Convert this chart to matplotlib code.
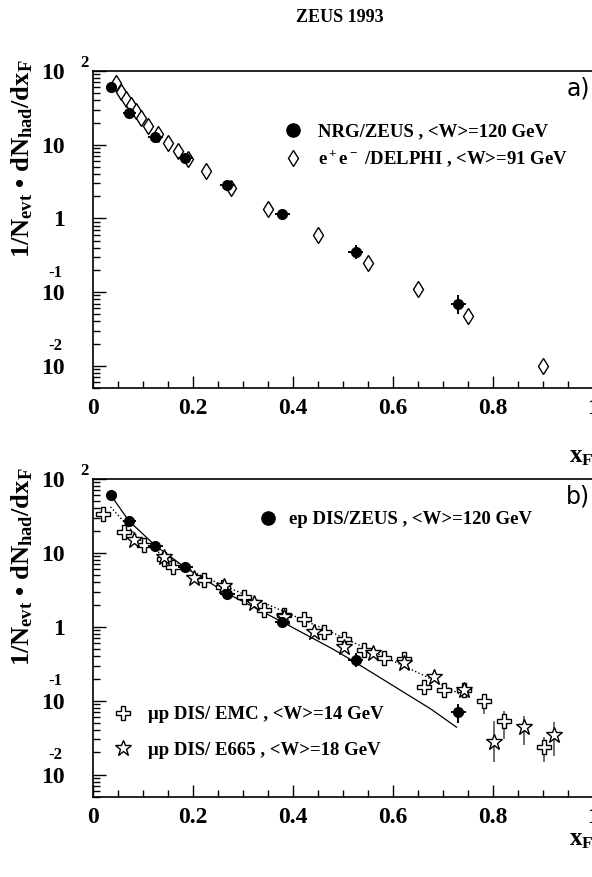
import numpy as np
import matplotlib
matplotlib.use('Agg')
import matplotlib.pyplot as plt
from matplotlib.lines import Line2D

# ZEUS points (identical in both panels)
zeus_x = [0.036, 0.072, 0.124, 0.184, 0.268, 0.378, 0.525, 0.730]
zeus_y = [61, 27, 12.6, 6.5, 2.8, 1.15, 0.355, 0.070]
zeus_xerr = [0.010, 0.013, 0.015, 0.015, 0.015, 0.015, 0.015, 0.015]
zeus_ylo = [57, 25, 11.8, 6.1, 2.6, 1.05, 0.285, 0.050]
zeus_yhi = [65, 29, 13.5, 6.9, 3.0, 1.27, 0.44, 0.090]

# e+e- DELPHI
delphi_x = [0.045, 0.055, 0.065, 0.075, 0.085, 0.095, 0.11, 0.13, 0.15, 0.17,
            0.19, 0.225, 0.275, 0.35, 0.45, 0.55, 0.65, 0.75, 0.90]
delphi_y = [69, 52, 42, 35, 29, 23, 18, 14, 10.5, 8.1,
            6.4, 4.36, 2.6, 1.36, 0.59, 0.25, 0.11, 0.047, 0.010]

# mu p EMC
emc_x = [0.019, 0.061, 0.101, 0.141, 0.160, 0.221, 0.260, 0.301, 0.341, 0.381, 0.421,
         0.461, 0.502, 0.542, 0.581, 0.621, 0.661, 0.701, 0.741, 0.781, 0.821, 0.901]
emc_y = [34, 19.4, 12.8, 8.2, 6.4, 4.3, 3.5, 2.57, 1.7, 1.45, 1.28,
         0.86, 0.68, 0.49, 0.38, 0.37, 0.153, 0.14, 0.138, 0.10, 0.054, 0.024]
emc_ylo = [34, 19.4, 12.8, 8.2, 6.4, 4.3, 3.5, 2.57, 1.7, 1.45, 1.28,
           0.86, 0.68, 0.49, 0.38, 0.37, 0.14, 0.125, 0.12, 0.066, 0.030, 0.015]
emc_yhi = [34, 19.4, 12.8, 8.2, 6.4, 4.3, 3.5, 2.57, 1.7, 1.45, 1.28,
           0.86, 0.68, 0.49, 0.38, 0.37, 0.168, 0.16, 0.16, 0.12, 0.072, 0.032]

# mu p E665
e665_x = [0.081, 0.141, 0.201, 0.262, 0.321, 0.381, 0.441, 0.502, 0.560, 0.621,
          0.681, 0.741, 0.801, 0.861, 0.921]
e665_y = [15, 8.7, 4.55, 3.6, 2.1, 1.38, 0.86, 0.54, 0.45, 0.32,
          0.21, 0.14, 0.0275, 0.044, 0.035]
e665_ylo = [15, 8.7, 4.55, 3.6, 2.1, 1.38, 0.86, 0.54, 0.45, 0.30,
            0.20, 0.125, 0.0148, 0.025, 0.018]
e665_yhi = [15, 8.7, 4.55, 3.6, 2.1, 1.38, 0.86, 0.54, 0.45, 0.34,
            0.22, 0.165, 0.054, 0.063, 0.052]

# curves in panel b
solid_x = [0.036, 0.072, 0.125, 0.185, 0.27, 0.38, 0.48, 0.525, 0.675, 0.727]
solid_y = [60, 27, 12.5, 6.3, 2.8, 1.15, 0.50, 0.33, 0.078, 0.044]
dotted_x = [0.035, 0.1, 0.128, 0.214, 0.3, 0.475, 0.662, 0.742]
dotted_y = [42, 13.6, 10.5, 5.0, 2.8, 0.86, 0.22, 0.115]

# ROOT-style log labels: mantissa on the tick, exponent written separately
ytick_vals = [0.01, 0.1, 1, 10, 100]
ytick_text = ['10', '10', '1', '10', '10']
yexp_vals = [100, 0.1, 0.01]
yexp_text = ['2', '-1', '-2']
yexp_shift = [(-6.5, 6.0), (-27, 14), (-27, 14.5)]   # offset points
xtick_vals = [0, 0.2, 0.4, 0.6, 0.8, 1.0]
xtick_text = ['0', '0.2', '0.4', '0.6', '0.8', '1']

plt.rcParams['font.family'] = ['Liberation Serif', 'DejaVu Serif']
plt.rcParams['font.weight'] = 'bold'
plt.rcParams['mathtext.fontset'] = 'custom'
plt.rcParams['mathtext.rm'] = 'Liberation Serif:bold'
plt.rcParams['mathtext.it'] = 'Liberation Serif:bold'
plt.rcParams['mathtext.bf'] = 'Liberation Serif:bold'

W, H = 592, 877
fig = plt.figure(figsize=(W / 100, H / 100), dpi=100)


def px_axes(x0, y0, x1, y1):
    return fig.add_axes([x0 / W, 1 - y1 / H, (x1 - x0) / W, (y1 - y0) / H])


def style_axes(ax, xlab_y):
    ax.set_yscale('log')
    ax.set_xlim(0, 1.0)
    ax.set_ylim(0.005, 100)
    ax.set_xticks(xtick_vals)
    ax.set_xticklabels(xtick_text)
    ax.set_xticks(np.arange(0.05, 1.0, 0.05), minor=True)
    ax.set_yticks(ytick_vals)
    ax.set_yticklabels(ytick_text)
    ax.tick_params(which='both', direction='in', top=False, right=False)
    ax.tick_params(which='major', length=9, width=1, labelsize=17, pad=7)
    ax.tick_params(which='minor', length=5, width=1)
    ax.tick_params(axis='y', which='major', pad=20)
    for s in ax.spines.values():
        s.set_linewidth(1.2)
    ax.spines['right'].set_visible(False)
    for v, t, sh in zip(yexp_vals, yexp_text, yexp_shift):
        ax.annotate(t, xy=(0, v), xycoords=ax.get_yaxis_transform(),
                    xytext=sh, textcoords='offset points',
                    ha='center', va='center', fontsize=12)
    ax.text(1.0, xlab_y, r'$x_F$', transform=ax.transAxes, ha='right', va='center',
            fontsize=18)


def zeus_points(ax):
    yerr = [np.array(zeus_y) - np.array(zeus_ylo), np.array(zeus_yhi) - np.array(zeus_y)]
    ax.errorbar(zeus_x, zeus_y, xerr=zeus_xerr, yerr=yerr, fmt='o', color='black',
                ms=7, elinewidth=1.4, capsize=0, zorder=5)


ylabel = '1/N$_{evt}$ \u2022 dN$_{had}$/dx$_F$'

# ---- panel a
axa = px_axes(93, 71, 593, 388)
style_axes(axa, -0.215)
axa.plot(delphi_x, delphi_y, 'd', mfc='white', mec='black', ms=8, mew=1.0, zorder=4)
zeus_points(axa)
h1 = Line2D([], [], marker='o', ls='none', color='black', ms=9.5)
h2 = Line2D([], [], marker='d', ls='none', mfc='white', mec='black', ms=8.5)
axa.legend([h1, h2], ['NRG/ZEUS , <W>=120 GeV', r'e$^+$e$^-$ /DELPHI , <W>=91 GeV'],
           loc='center left', bbox_to_anchor=(0.381, 0.763), frameon=False,
           fontsize=13.5, handlelength=1.0, handletextpad=0.83, labelspacing=0.45,
           borderpad=0, borderaxespad=0)
axa.text(0.995, 0.945, 'a)', transform=axa.transAxes, ha='right', va='center',
         fontsize=17, family='DejaVu Sans', weight='normal')
fig.text(22 / W, 1 - 60 / H, ylabel, rotation=90, ha='center', va='top', fontsize=19)

# ---- panel b
axb = px_axes(93, 479, 593, 797)
style_axes(axb, -0.135)
axb.plot(solid_x, solid_y, '-', color='black', lw=0.9, zorder=2)
axb.plot(dotted_x, dotted_y, ':', color='black', lw=1.0, zorder=2)
emc_err = [np.array(emc_y) - np.array(emc_ylo), np.array(emc_yhi) - np.array(emc_y)]
axb.errorbar(emc_x, emc_y, yerr=emc_err, fmt='P', mfc='white', mec='black', ecolor='#555555',
             ms=10, mew=1.0, elinewidth=1.2, capsize=0, zorder=3)
e665_err = [np.array(e665_y) - np.array(e665_ylo), np.array(e665_yhi) - np.array(e665_y)]
axb.errorbar(e665_x, e665_y, yerr=e665_err, fmt='*', mfc='white', mec='black', ecolor='#555555',
             ms=12, mew=1.0, elinewidth=1.2, capsize=0, zorder=4)
zeus_points(axb)
hb1 = Line2D([], [], marker='o', ls='none', color='black', ms=9.5)
leg1 = axb.legend([hb1], ['ep DIS/ZEUS , <W>=120 GeV'], loc='center left',
                  bbox_to_anchor=(0.331, 0.872), frameon=False, fontsize=13.5,
                  handlelength=1.0, handletextpad=0.62, borderpad=0, borderaxespad=0)
axb.add_artist(leg1)
hb2 = Line2D([], [], marker='P', ls='none', mfc='white', mec='black', ms=10)
hb3 = Line2D([], [], marker='*', ls='none', mfc='white', mec='black', ms=12)
axb.legend([hb2, hb3], ['\u03bcp DIS/ EMC , <W>=14 GeV', '\u03bcp DIS/ E665 , <W>=18 GeV'],
           loc='center left', bbox_to_anchor=(0.041, 0.203), frameon=False, fontsize=13.5,
           handlelength=1.0, handletextpad=0.83, labelspacing=1.0, borderpad=0,
           borderaxespad=0)
axb.text(0.995, 0.945, 'b)', transform=axb.transAxes, ha='right', va='center',
         fontsize=17, family='DejaVu Sans', weight='normal')
fig.text(22 / W, 1 - 468 / H, ylabel, rotation=90, ha='center', va='top', fontsize=19)

fig.text(340 / W, 1 - 18 / H, 'ZEUS 1993', ha='center', va='center', fontsize=13)

fig.savefig('out.png', dpi=100)
